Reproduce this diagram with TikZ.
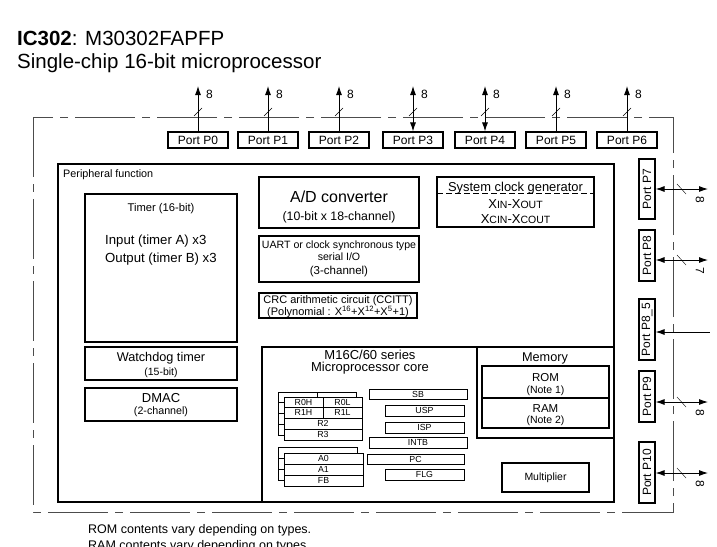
\documentclass[tikz,border=0pt]{standalone}
\usepackage{fontspec}
\setmainfont{Liberation Sans}
\usetikzlibrary{arrows.meta}
\newcommand{\fsz}[2]{\fontsize{#1}{#2}\selectfont}
\newcommand{\lowcap}[1]{{\fontsize{10.5}{11}\selectfont #1}}

\begin{document}
\begin{tikzpicture}[x=1pt, y=-1pt, >={Latex[length=9pt,width=6pt]},
	blk/.style={line width=1.2pt},
	port/.style={draw, line width=1.1pt, inner sep=0pt, minimum height=16pt, font=\fsz{12}{14}},
	reg/.style={line width=0.9pt, fill=white},
	regtxt/.style={font=\fsz{8.8}{9}, inner sep=0pt},
	chip/.style={line width=0.8pt, black!70, dash pattern=on 60pt off 7pt on 8pt off 7pt},
	bus/.style={line width=0.9pt},
	lbl/.style={font=\fsz{12}{14}, inner sep=0pt}]
	\useasboundingbox[fill=white] (0,0) rectangle (717,546);
	
	% === 标题 ===
	\node[anchor=base west, inner sep=0pt, font=\fsz{20.5}{24}] (title) at (17,45) {\textbf{IC302}: M30302FAPFP};
	\node[anchor=base west, inner sep=0pt, font=\fsz{20.5}{24}] (subtitle) at (17,68) {Single-chip 16-bit microprocessor};
	
	% === 芯片外框 ===
	\draw[chip] (33,117) rectangle (673,512);
	
	% === 上方端口 P0--P6 ===
	\foreach \n/\x in {0/198,1/268,2/339,3/413,4/485,5/556,6/627} {
		\node[port, minimum width=60pt] (p\n) at (\x,140) {Port P\n};
		\coordinate (pt\n) at (\x,86);
	}
	\foreach \n in {0,1,2,5,6}
		\draw[bus, ->] (p\n) -- (pt\n);
	\foreach \n in {3,4}
		\draw[bus, <->] (p\n) -- (pt\n);
	\foreach \n in {0,...,6} {
		\draw[thin] (pt\n) ++(-4,30) -- ++(8,-8);
		\node[lbl, anchor=west] (w\n) at ([xshift=8pt, yshift=-8pt]pt\n) {8};
	}
	
	% === 右侧端口 P7--P10 ===
	\node[port, rotate=90, minimum width=60pt] (p7) at (647,189) {Port P7};
	\node[port, rotate=90, minimum width=51pt] (p8) at (647,255.5) {Port P8};
	\node[port, rotate=90, minimum width=61pt] (p85) at (647,329.5) {Port P8\_5};
	\node[port, rotate=90, minimum width=51pt] (p9) at (647,396.5) {Port P9};
	\node[port, rotate=90, minimum width=61pt] (p10) at (647,472.5) {Port P10};
	\coordinate (pe7) at (708,189);
	\coordinate (pe8) at (708,260);
	\coordinate (pe85) at (710,332);
	\coordinate (pe9) at (708,402);
	\coordinate (pe10) at (708,473);
	\foreach \n/\w in {7/8,8/7,9/8,10/8} {
		\draw[bus, <->] (pe\n -| p\n.south) -- (pe\n);
		\draw[thin] (pe\n) ++(-31,-5) -- ++(9,10);
		\node[lbl, rotate=-90] (w\n) at ([xshift=-8pt, yshift=-11pt]pe\n) {\w};
	}
	\draw[bus, <-] (pe85 -| p85.south) -- (pe85);
	
	% === 外设功能 ===
	\draw[blk, line width=1.4pt] (58,164) rectangle (614,502);
	\node[anchor=west, inner sep=0pt, font=\fsz{10.8}{12}] (periph) at (63,175) {Peripheral function};
	
	% 定时器
	\draw[blk] (85,194) rectangle (237,342);
	\node[font=\fsz{11.2}{13}] (timer) at (161,209) {Timer (16-bit)};
	\node[anchor=west, inner sep=0pt, font=\fsz{13.2}{15}] (tin) at (105,241) {Input (timer A) x3};
	\node[anchor=west, inner sep=0pt, font=\fsz{13.2}{15}] (tout) at (105,259) {Output (timer B) x3};
	
	% 看门狗 / DMAC
	\draw[blk] (85,347) rectangle (237,380);
	\node[font=\fsz{12.7}{14}] (wdt) at (161,358) {Watchdog timer};
	\node[font=\fsz{10.5}{12}] (wdtb) at (161,373) {(15-bit)};
	\draw[blk] (85,388) rectangle (237,421);
	\node[font=\fsz{13}{15}] (dmac) at (161,398) {DMAC};
	\node[font=\fsz{10.7}{12}] (dmacb) at (161,412) {(2-channel)};
	
	% A/D, UART, CRC
	\draw[blk] (259,177) rectangle (419,228);
	\node[font=\fsz{16}{18}] (adc) at (339,197) {A/D converter};
	\node[font=\fsz{12.3}{14}] (adcb) at (339,217) {(10-bit x 18-channel)};
	\draw[blk] (259,236) rectangle (419,282);
	\node[font=\fsz{10.6}{12}] (uart) at (339,246) {UART or clock synchronous type};
	\node[font=\fsz{10.6}{12}] (uartb) at (339,257) {serial I/O};
	\node[font=\fsz{11.5}{13}] (uartc) at (339,272) {(3-channel)};
	\draw[blk] (259,293) rectangle (417,318);
	\node[font=\fsz{11}{12}] (crc) at (338,300.5) {CRC arithmetic circuit (CCITT)};
	\node[font=\fsz{11}{12}] (crcb) at (338,312) {(Polynomial : X\textsuperscript{16}+X\textsuperscript{12}+X\textsuperscript{5}+1)};
	
	% 系统时钟
	\draw[blk] (437,177) rectangle (594,227);
	\draw[thin, dash pattern=on 6pt off 3pt] (437,193) -- (594,193);
	\node[font=\fsz{12.9}{14}] (clk) at (515.5,188) {System clock generator};
	\node[font=\fsz{13}{14}] (xin) at (515.5,204) {X\lowcap{IN}-X\lowcap{OUT}};
	\node[font=\fsz{13}{14}] (xcin) at (515.5,219) {X\lowcap{CIN}-X\lowcap{COUT}};
	
	% === CPU 核心与存储器 ===
	\draw[blk] (262,347) rectangle (614,502);
	\node[font=\fsz{13}{15}] (core) at (370,355) {M16C/60 series};
	\node[font=\fsz{13}{15}] (coreb) at (370,368.5) {Microprocessor core};
	\draw[blk] (477,347) rectangle (614,438);
	\node[font=\fsz{12.7}{14}] (mem) at (545,358) {Memory};
	\draw[blk] (482,366) rectangle (609,398);
	\node[font=\fsz{11.5}{13}] (rom) at (545.5,378) {ROM};
	\node[font=\fsz{10.5}{12}] (romb) at (545.5,391) {(Note 1)};
	\draw[blk] (482,398) rectangle (609,428);
	\node[font=\fsz{11.5}{13}] (ram) at (545.5,409) {RAM};
	\node[font=\fsz{10.5}{12}] (ramb) at (545.5,421) {(Note 2)};
	\draw[blk] (502,463) rectangle (589,492);
	\node[font=\fsz{10.5}{12}] (mul) at (545.5,477.5) {Multiplier};
	
	% 寄存器组 (后面一组)
	\begin{scope}[shift={(-6,-5)}]
		\draw[reg] (284,397) rectangle (323,407);
		\draw[reg] (323,397) rectangle (362,407);
		\draw[reg] (284,407) rectangle (323,418);
		\draw[reg] (323,407) rectangle (362,418);
		\draw[reg] (284,418) rectangle (362,429);
		\draw[reg] (284,429) rectangle (362,440);
	\end{scope}
	\begin{scope}[shift={(-6,-6)}]
		\draw[reg] (284,453) rectangle (363,464);
		\draw[reg] (284,464) rectangle (363,475);
		\draw[reg] (284,475) rectangle (363,486);
	\end{scope}
	
	% 寄存器组 (前面一组)
	\draw[reg] (284,397) rectangle (323,407) node[regtxt, midway] (r0h) {R0H};
	\draw[reg] (323,397) rectangle (362,407) node[regtxt, midway] (r0l) {R0L};
	\draw[reg] (284,407) rectangle (323,418) node[regtxt, midway] (r1h) {R1H};
	\draw[reg] (323,407) rectangle (362,418) node[regtxt, midway] (r1l) {R1L};
	\draw[reg] (284,418) rectangle (362,429) node[regtxt, midway] (r2) {R2};
	\draw[reg] (284,429) rectangle (362,440) node[regtxt, midway] (r3) {R3};
	\draw[reg] (284,453) rectangle (363,464) node[regtxt, midway] (a0) {A0};
	\draw[reg] (284,464) rectangle (363,475) node[regtxt, midway] (a1) {A1};
	\draw[reg] (284,475) rectangle (363,486) node[regtxt, midway] (fb) {FB};
	
	% 专用寄存器
	\draw[reg] (369,389) rectangle (467,399) node[regtxt, midway] (sb) {SB};
	\draw[reg] (385,405) rectangle (464,416) node[regtxt, midway] (usp) {USP};
	\draw[reg] (385,422) rectangle (464,433) node[regtxt, midway] (isp) {ISP};
	\draw[reg] (369,437) rectangle (467,448) node[regtxt, midway] (intb) {INTB};
	\draw[reg] (367,454) rectangle (464,464) node[regtxt, midway] (pc) {PC};
	\draw[reg] (385,469) rectangle (464,480) node[regtxt, midway] (flg) {FLG};
	
	% === 注释 ===
	\node[anchor=base west, inner sep=0pt, font=\fsz{12.5}{14}] (note1) at (88,533) {ROM contents vary depending on types.};
	\node[anchor=base west, inner sep=0pt, font=\fsz{12.5}{14}] (note2) at (88,549) {RAM contents vary depending on types.};
\end{tikzpicture}
\end{document}
